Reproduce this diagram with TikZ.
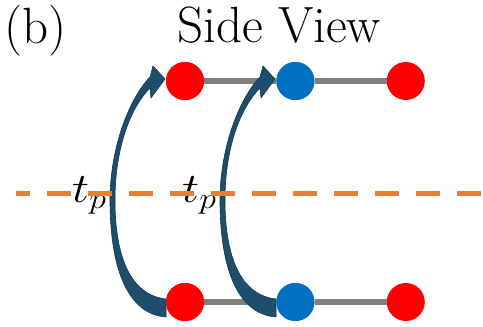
\RequirePackage{fix-cm}
\documentclass[tikz,border=0pt]{standalone}
\usepackage{tikz}
\usetikzlibrary{positioning}
\definecolor{AtomRed}{RGB}{255,0,0}
\definecolor{AtomBlue}{RGB}{0,112,192}
\definecolor{BondGray}{RGB}{128,128,128}
\definecolor{PlaneOrange}{RGB}{237,125,49}
\definecolor{HopBlue}{RGB}{30,78,108}
\definecolor{HopEdge}{RGB}{20,55,78}
\tikzset{
	atom/.style={circle, minimum size=38pt, inner sep=0pt},
	bond/.style={line width=6pt, BondGray},
	hop/.style={fill=HopBlue, draw=HopEdge, line width=0.6pt, line join=round},
	bigtext/.style={font=\fontsize{51}{60}\selectfont, inner sep=0pt, anchor=base west},
	hoplabel/.style={font=\fontsize{42}{50}\selectfont, xscale=1.15, inner sep=0pt, anchor=base west}
}

\begin{document}
\begin{tikzpicture}[x=1pt, y=-1pt]
	\useasboundingbox (0,0) rectangle (483,327);
	% titles
	\node[bigtext] (panel) at (4,43) {(b)};
	\node[bigtext] (title) at (177,42) {Side View};
	% top row
	\node[atom, fill=AtomRed] (r1) at (185,81) {};
	\node[atom, fill=AtomBlue, right=72pt of r1] (b1) {};
	\node[atom, fill=AtomRed, right=72pt of b1] (r2) {};
	% bottom row
	\node[atom, fill=AtomRed] (r3) at (185,302) {};
	\node[atom, fill=AtomBlue, right=72pt of r3] (b2) {};
	\node[atom, fill=AtomRed, right=72pt of b2] (r4) {};
	\draw[bond] (r1) -- (b1);
	\draw[bond] (b1) -- (r2);
	\draw[bond] (r3) -- (b2);
	\draw[bond] (b2) -- (r4);
	% hopping arrows
	\foreach \dx in {0,110} {
		\begin{scope}[xshift=\dx pt]
			\path[hop] (166,317)
				.. controls (126,314) and (110,265) .. (110,200)
				.. controls (110,150) and (128,100) .. (150,77)
				-- (153,66) -- (165,79) -- (151,98) -- (150,88)
				.. controls (132,106) and (115,145) .. (115,200)
				.. controls (115,256) and (130,295) .. (166,299)
				-- cycle;
			\node[hoplabel] (tp\dx) at (72,202) {$t_p$};
		\end{scope}
	}
	\node[atom, fill=AtomRed] at (r1) {};
	\node[atom, fill=AtomBlue] at (b1) {};
	\node[atom, fill=AtomRed] at (r3) {};
	\node[atom, fill=AtomBlue] at (b2) {};
	% mirror plane
	\coordinate (m1) at (16,193);
	\coordinate (m2) at (483,193);
	\draw[PlaneOrange, line width=5pt, dash pattern=on 24pt off 17pt, dash phase=10pt] (m1) -- (m2);
\end{tikzpicture}
\end{document}
